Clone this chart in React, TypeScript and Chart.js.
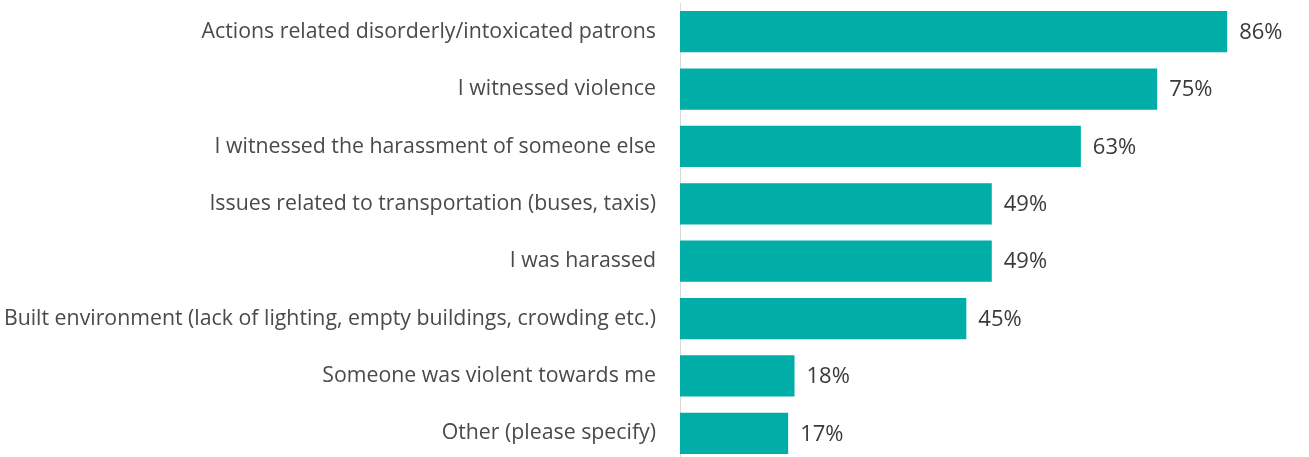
import React, { useEffect, useRef } from "react";
import { Chart, registerables } from "chart.js";

Chart.register(...registerables);

const categories: string[] = [
  "Actions related disorderly/intoxicated patrons",
  "I witnessed violence",
  "I witnessed the harassment of someone else",
  "Issues related to transportation (buses, taxis)",
  "I was harassed",
  "Built environment (lack of lighting, empty buildings, crowding etc.)",
  "Someone was violent towards me",
  "Other (please specify)",
];

const values: number[] = [86, 75, 63, 49, 49, 45, 18, 17];

const BAR_COLOR = "#00ADA7";
const TEXT_COLOR = "#4a4a4a";
const FONT_FAMILY = "'Open Sans', sans-serif";

const valueLabels = {
  id: "valueLabels",
  afterDatasetsDraw(chart: any) {
    const ctx = chart.ctx;
    const meta = chart.getDatasetMeta(0);
    ctx.save();
    ctx.font = `22px ${FONT_FAMILY}`;
    ctx.fillStyle = "#3a3a3a";
    ctx.textAlign = "left";
    ctx.textBaseline = "middle";
    meta.data.forEach((bar: any, i: number) => {
      ctx.fillText(`${values[i]}%`, bar.x + 12, bar.y + 1);
    });
    ctx.restore();
  },
};

export default function App() {
  const ref = useRef<HTMLCanvasElement | null>(null);

  useEffect(() => {
    if (!ref.current) return;
    const chart = new Chart(ref.current, {
      type: "bar",
      data: {
        labels: categories,
        datasets: [
          {
            data: values,
            backgroundColor: BAR_COLOR,
            borderWidth: 0,
            categoryPercentage: 0.72,
            barPercentage: 1,
          },
        ],
      },
      options: {
        indexAxis: "y",
        animation: false,
        responsive: false,
        maintainAspectRatio: false,
        devicePixelRatio: 1,
        layout: { padding: { top: 3, right: 8, bottom: 0, left: 0 } },
        plugins: {
          legend: { display: false },
          tooltip: { enabled: false },
        },
        scales: {
          x: {
            display: false,
            min: 0,
            max: 97.6,
          },
          y: {
            grid: { display: false, drawTicks: false },
            border: { display: true, color: "#d9d9d9", width: 1 },
            ticks: {
              color: TEXT_COLOR,
              font: { family: FONT_FAMILY, size: 21.3 },
              padding: 24,
            },
            afterFit: (s: any) => {
              s.width = 680;
              s.paddingTop = 0;
              s.paddingBottom = 0;
            },
          },
        },
      },
      plugins: [valueLabels],
    });
    return () => chart.destroy();
  }, []);

  return (
    <div
      style={{
        position: "fixed",
        left: 0,
        top: 0,
        width: 1309,
        height: 462,
        background: "#ffffff",
      }}
    >
      <canvas ref={ref} width={1309} height={462} style={{ display: "block" }} />
    </div>
  );
}
